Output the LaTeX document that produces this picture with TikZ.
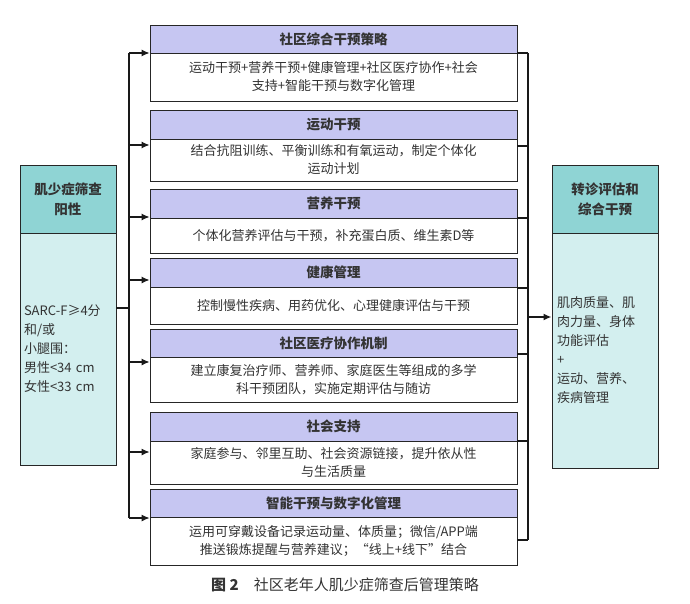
\documentclass[tikz,border=0pt]{standalone}
\usepackage{fontspec}
\setmainfont{Noto Sans CJK SC}
\usetikzlibrary{arrows.meta}
\definecolor{hdr}{HTML}{C6C6F2}
\definecolor{thdr}{HTML}{8FD4D4}
\definecolor{tbody}{HTML}{D3EFEF}
\definecolor{txt}{HTML}{333333}
\tikzset{
  bx/.style={draw=black!85,line width=0.9pt,inner sep=2pt,align=center,text=txt,font=\fontsize{13}{18}\selectfont},
  conn/.style={line width=1.1pt,black!90},
  arr/.style={conn,-{Latex[length=8pt,width=7pt]}}
}
\newcommand{\midbox}[6]{% name, top, mid, bottom, title, body
  \node[bx,fill=hdr,minimum width=367pt,minimum height={(#3-#2)*1pt},font=\fontsize{13.5}{16}\bfseries\selectfont] (#1h) at (333.5,{(#2+#3)/2}) {#5};
  \node[bx,fill=white,minimum width=367pt,minimum height={(#4-#3)*1pt},text width=360pt] (#1b) at (333.5,{(#3+#4)/2}) {#6};
}
\begin{document}
\begin{tikzpicture}[x=1pt,y=-1pt]
\useasboundingbox (0,0) rectangle (690,604);
\midbox{m1}{25}{53}{101}{社区综合干预策略}{运动干预+营养干预+健康管理+社区医疗协作+社会\\支持+智能干预与数字化管理}
\midbox{m2}{110}{139}{181}{运动干预}{结合抗阻训练、平衡训练和有氧运动，制定个体化\\运动计划}
\midbox{m3}{189}{218}{253}{营养干预}{个体化营养评估与干预，补充蛋白质、维生素D等}
\midbox{m4}{258}{287}{324}{健康管理}{控制慢性疾病、用药优化、心理健康评估与干预}
\midbox{m5}{329}{357}{402}{社区医疗协作机制}{建立康复治疗师、营养师、家庭医生等组成的多学\\科干预团队，实施定期评估与随访}
\midbox{m6}{412}{441}{484}{社会支持}{家庭参与、邻里互助、社会资源链接，提升依从性\\与生活质量}
\midbox{m7}{489}{517}{565}{智能干预与数字化管理}{运用可穿戴设备记录运动量、体质量；微信/APP端\\推送锻炼提醒与营养建议；“线上+线下”结合}
% left box
\node[bx,fill=thdr,minimum width=96pt,minimum height=68pt,font=\fontsize{13.5}{20}\bfseries\selectfont] (lh) at (68,199) {肌少症筛查\\阳性};
\node[bx,fill=tbody,minimum width=96pt,minimum height=232pt,align=left,text width=88pt,font=\fontsize{13}{19}\selectfont] (lb) at (68,349) {SARC-F≥4分\\和/或\\小腿围：\\男性<34 cm\\女性<33 cm};
% right box
\node[bx,fill=thdr,minimum width=106pt,minimum height=68pt,font=\fontsize{13.5}{20}\bfseries\selectfont] (rh) at (605,199) {转诊评估和\\综合干预};
\node[bx,fill=tbody,minimum width=106pt,minimum height=235pt,align=left,text width=96pt,font=\fontsize{13}{19}\selectfont] (rb) at (605,350.5) {肌肉质量、肌\\肉力量、身体\\功能评估\\+\\运动、营养、\\疾病管理};
% left connectors
\coordinate (lt) at (129,308);
\coordinate (t1) at (129,53);
\coordinate (t7) at (129,518);
\draw[conn,line width=1.6pt] (lt -| lb.east) -- (lt);
\draw[conn] (t1) -- (t7);
\foreach \n/\y in {m1/53,m2/145,m3/217,m4/280,m5/362,m6/452,m7/518}{
  \coordinate (a\n) at (129,\y);
  \draw[arr] (a\n) -- (a\n -| \n h.west);
}
% right connectors
\coordinate (r1) at (528,53);
\coordinate (r7) at (528,540);
\draw[conn] (r1) -- (r7);
\foreach \n/\y in {m1/53,m2/146,m3/218,m4/288,m5/354,m6/441,m7/540}{
  \coordinate (b\n) at (528,\y);
  \draw[conn] (b\n -| \n h.east) -- (b\n);
}
\coordinate (rt) at (528,317);
\draw[arr,line width=1.6pt] (rt) -- (rt -| rb.west);
% caption
\node[text=txt,font=\fontsize{15}{18}\selectfont] (cap) at (345,585) {\textbf{图 2}\quad 社区老年人肌少症筛查后管理策略};
\end{tikzpicture}
\end{document}
